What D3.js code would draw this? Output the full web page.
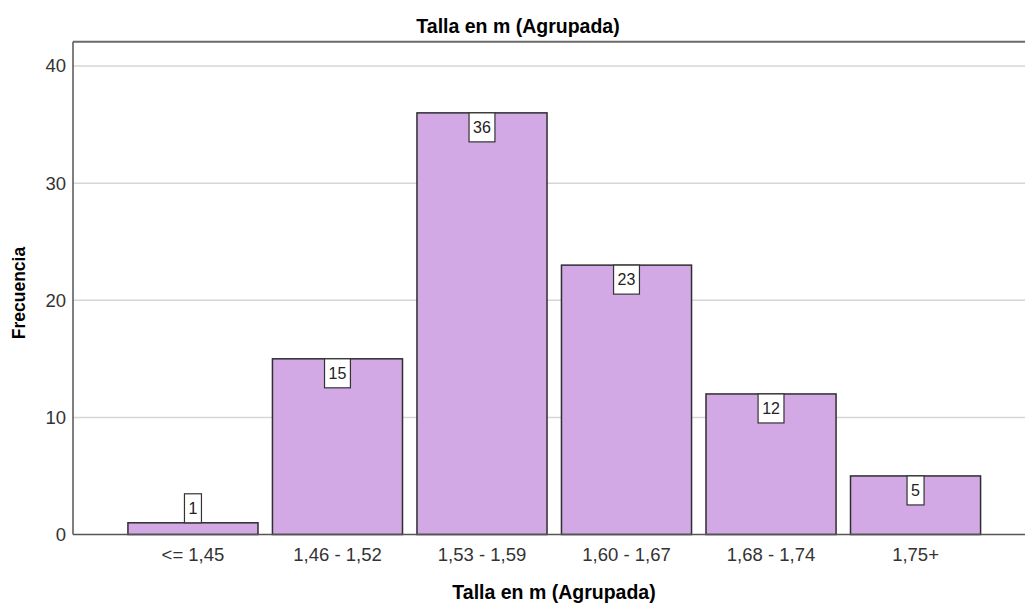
<!DOCTYPE html>
<html>
<head>
<meta charset="utf-8">
<script src="https://cdn.jsdelivr.net/npm/d3@7"></script>
<style>
  body { margin: 0; background: #fff; }
  svg text { font-family: "Liberation Sans", Arial, sans-serif; }
</style>
</head>
<body>
<svg id="chart" width="1025" height="606"></svg>
<script>
// frecuencias por grupo de talla
var categories = ["<= 1,45", "1,46 - 1,52", "1,53 - 1,59", "1,60 - 1,67", "1,68 - 1,74", "1,75+"];
var counts = [1, 15, 36, 23, 12, 5];
var yTicks = [0, 10, 20, 30, 40];

function draw() {
  var svg = d3.select("#chart");
  var plotLeft = 73, plotTop = 42.6, plotBottom = 534.5, plotRight = 1025;

  var x = d3.scaleBand()
      .domain(categories)
      .range([120.7, 987.8])
      .paddingInner(0.1)
      .paddingOuter(0.05);

  var y = d3.scaleLinear().domain([0, 42]).range([plotBottom, plotTop]);

  var data = categories.map(function (c, i) { return {cat: c, val: counts[i]}; });

  // gridlines
  svg.append("g")
      .selectAll("line")
      .data(yTicks.filter(function (d) { return d > 0; }))
      .enter().append("line")
      .attr("x1", plotLeft).attr("x2", plotRight)
      .attr("y1", function (d) { return y(d); })
      .attr("y2", function (d) { return y(d); })
      .attr("stroke", "#d6d6d6")
      .attr("stroke-width", 1.5);

  // top frame line
  svg.append("line")
      .attr("x1", plotLeft).attr("x2", plotRight)
      .attr("y1", 41.8).attr("y2", 41.8)
      .attr("stroke", "#6a6a6a").attr("stroke-width", 2);

  // bars
  svg.append("g")
      .selectAll("rect")
      .data(data)
      .enter().append("rect")
      .attr("x", function (d) { return x(d.cat); })
      .attr("y", function (d) { return y(d.val); })
      .attr("width", x.bandwidth())
      .attr("height", function (d) { return plotBottom - y(d.val); })
      .attr("fill", "#d2a9e4")
      .attr("stroke", "#2e2e2e")
      .attr("stroke-width", 1.5);

  // y axis
  var yAxis = svg.append("g")
      .attr("transform", "translate(" + plotLeft + ",0)")
      .call(d3.axisLeft(y).tickValues(yTicks).tickSize(0).tickPadding(7));
  yAxis.select(".domain").attr("stroke", "#555").attr("stroke-width", 1.5)
      .attr("d", "M0,41.8V" + plotBottom);
  yAxis.selectAll("text")
      .attr("font-size", 18.5)
      .attr("fill", "#333")
      .attr("font-family", "Liberation Sans, Arial, sans-serif");

  // x axis
  var xAxis = svg.append("g")
      .attr("transform", "translate(0," + plotBottom + ")")
      .call(d3.axisBottom(x).tickSize(0).tickPadding(13));
  xAxis.select(".domain").attr("stroke", "#555").attr("stroke-width", 1.5)
      .attr("d", "M" + plotLeft + ",0H" + plotRight);
  xAxis.selectAll("text")
      .attr("font-size", 18.5)
      .attr("fill", "#333")
      .attr("font-family", "Liberation Sans, Arial, sans-serif");

  // value labels
  var boxH = 29;
  var lbl = svg.append("g")
      .selectAll("g")
      .data(data)
      .enter().append("g")
      .attr("transform", function (d) {
        var cx = x(d.cat) + x.bandwidth() / 2;
        var yTop = (plotBottom - y(d.val) > boxH + 4) ? y(d.val) : y(d.val) - boxH;
        return "translate(" + cx + "," + yTop + ")";
      });
  lbl.append("text")
      .attr("text-anchor", "middle")
      .attr("y", boxH / 2)
      .attr("dy", "0.36em")
      .attr("font-size", 16)
      .attr("fill", "#222")
      .text(function (d) { return d.val; });
  lbl.insert("rect", "text")
      .each(function () {
        var t = d3.select(this.parentNode).select("text").node().getBBox();
        d3.select(this)
          .attr("x", -t.width / 2 - 4)
          .attr("width", t.width + 8)
          .attr("y", 0)
          .attr("height", boxH);
      })
      .attr("fill", "#fff")
      .attr("stroke", "#333")
      .attr("stroke-width", 1.2);

  // titles
  svg.append("text")
      .attr("x", 518).attr("y", 32.5)
      .attr("text-anchor", "middle")
      .attr("font-size", 19.5).attr("font-weight", "bold")
      .text("Talla en m (Agrupada)");

  svg.append("text")
      .attr("x", 554).attr("y", 599)
      .attr("text-anchor", "middle")
      .attr("font-size", 19.5).attr("font-weight", "bold")
      .text("Talla en m (Agrupada)");

  svg.append("text")
      .attr("transform", "translate(24.5,293) rotate(-90)")
      .attr("text-anchor", "middle")
      .attr("font-size", 17.5).attr("font-weight", "bold")
      .text("Frecuencia");
}

draw();
</script>
</body>
</html>
